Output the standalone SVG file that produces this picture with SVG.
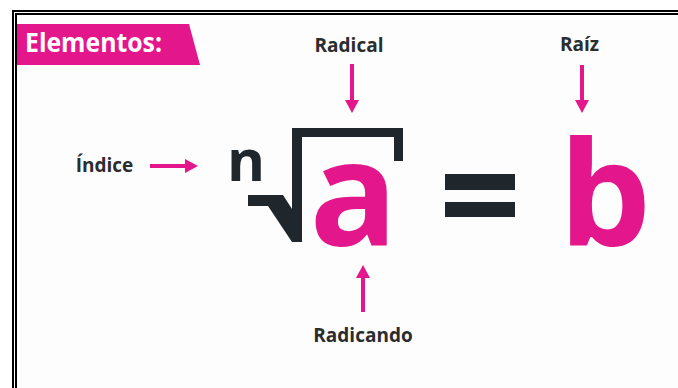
<svg xmlns="http://www.w3.org/2000/svg" width="678" height="388" viewBox="0 0 678 388">
  <style>
    .lbl { font-family: "Open Sans", "Noto Sans", sans-serif; font-weight: 700; font-size: 19px; fill: #2a2c2e; text-anchor: middle; }
    .big { font-family: "Open Sans", "Noto Sans", sans-serif; font-weight: 700; text-anchor: middle; }
    .pink { fill: #e3168b; }
    .dark { fill: #1f272c; }
    .arrow { stroke: #e3168b; stroke-width: 4; fill: none; }
  </style>
  <defs>
    <marker id="head" markerUnits="userSpaceOnUse" markerWidth="18" markerHeight="14" refX="0" refY="7" orient="auto" viewBox="0 0 18 14">
      <path d="M0,0 L13,7 L0,14 Z" fill="#e3168b"/>
    </marker>
  </defs>
  <rect x="0" y="0" width="678" height="388" fill="#ffffff"/>
  <g id="frame">
    <rect x="16" y="14" width="670" height="380" fill="#fdfdfd"/>
    <path d="M13,400 L13,11 L690,11" fill="none" stroke="#000" stroke-width="2"/>
    <path d="M16,400 L16,14 L690,14" fill="none" stroke="#000" stroke-width="2"/>
  </g>
  <g id="banner">
    <polygon points="17,24 189,24 200,65 17,65" class="pink"/>
    <text x="25" y="52" font-family="Open Sans, Noto Sans, sans-serif" font-weight="700" font-size="27" fill="#ffffff" textLength="137" lengthAdjust="spacingAndGlyphs">Elementos:</text>
  </g>
  <g id="indice-label"><text class="lbl" x="104.5" y="172">Índice</text></g>
  <g id="radical-label"><text class="lbl" x="349" y="52">Radical</text></g>
  <g id="raiz-label"><text class="lbl" x="579.5" y="51">Raíz</text></g>
  <g id="radicando-label"><text class="lbl" x="363" y="342">Radicando</text></g>
  <g id="radical-expression">
    <text class="big dark" x="246" y="181" font-size="58">n</text>
    <polygon class="dark" points="248,195 283,195 292,209 292,128 403,128 403,161 394,161 394,137 302,137 302,242 292,242 268,206 248,206"/>
    <text class="big pink" x="353.5" y="246" font-size="146">a</text>
  </g>
  <g id="equals">
    <rect class="dark" x="445" y="174" width="70" height="16"/>
    <rect class="dark" x="445" y="202" width="70" height="15"/>
  </g>
  <g id="root-b">
    <text class="big pink" x="605" y="246" font-size="146">b</text>
  </g>
  <g id="connectors">
    <line class="arrow" x1="150" y1="166" x2="185" y2="166" marker-end="url(#head)"/>
    <line class="arrow" x1="352" y1="64" x2="352" y2="100" marker-end="url(#head)"/>
    <line class="arrow" x1="582" y1="65" x2="582" y2="100" marker-end="url(#head)"/>
    <line class="arrow" x1="363" y1="312" x2="363" y2="278" marker-end="url(#head)"/>
  </g>
</svg>
